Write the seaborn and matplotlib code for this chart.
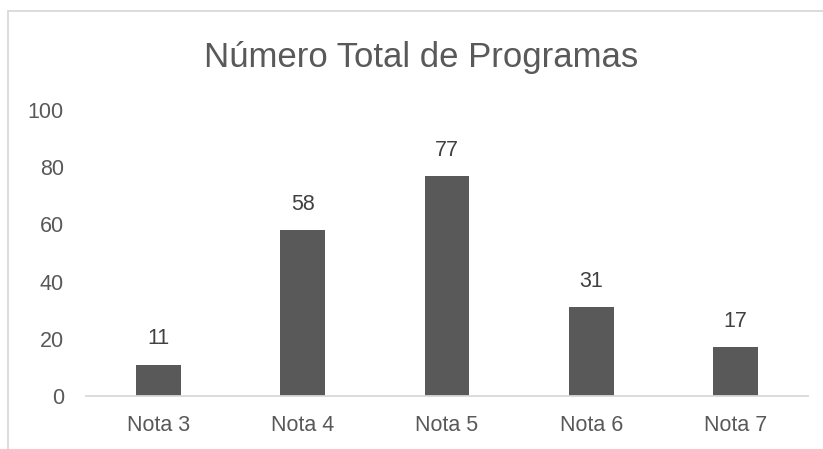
import matplotlib
matplotlib.use("Agg")
import matplotlib.pyplot as plt
import seaborn as sns
import pandas as pd
from matplotlib.lines import Line2D

categories = ["Nota 3", "Nota 4", "Nota 5", "Nota 6", "Nota 7"]
values = [11, 58, 77, 31, 17]
title = "Número Total de Programas"
yticks = [0, 20, 40, 60, 80, 100]

sns.set_theme(style="white")
plt.rcParams['font.family'] = ['Liberation Sans', 'DejaVu Sans']

df = pd.DataFrame({"cat": categories, "val": values})

W, H = 823, 449
fig = plt.figure(figsize=(W / 100, H / 100), dpi=100)
ax = fig.add_axes([86 / W, 1 - 396 / H, (808 - 86) / W, (396 - 110) / H])

sns.barplot(data=df, x="cat", y="val", color="#595959", width=0.31,
            saturation=1, ax=ax)
for p in ax.patches:
    p.set_edgecolor("none")

ax.set_ylim(0, 100)
ax.set_yticks(yticks)
ax.set_xlabel("")
ax.set_ylabel("")
for s in ["top", "right", "left"]:
    ax.spines[s].set_visible(False)
ax.spines["bottom"].set_color("#d9d9d9")
ax.spines["bottom"].set_linewidth(1.3)
ax.tick_params(axis="both", length=0, labelsize=15.5, colors="#595959")
ax.tick_params(axis="y", pad=16)
ax.tick_params(axis="x", pad=14)

for c in ax.containers:
    ax.bar_label(c, padding=11, fontsize=15.5, color="#404040")

fig.text(421 / W, 1 - 58 / H, title, ha="center", va="center",
         fontsize=25, color="#595959")

# chart frame (left and top edges visible)
fig.add_artist(Line2D([8 / W, 8 / W], [0, 1 - 11 / H], transform=fig.transFigure,
                      color="#d9d9d9", linewidth=1.3))
fig.add_artist(Line2D([8 / W, 1], [1 - 11 / H, 1 - 11 / H], transform=fig.transFigure,
                      color="#d9d9d9", linewidth=1.3))

fig.savefig("out.png", dpi=100, facecolor="white")
